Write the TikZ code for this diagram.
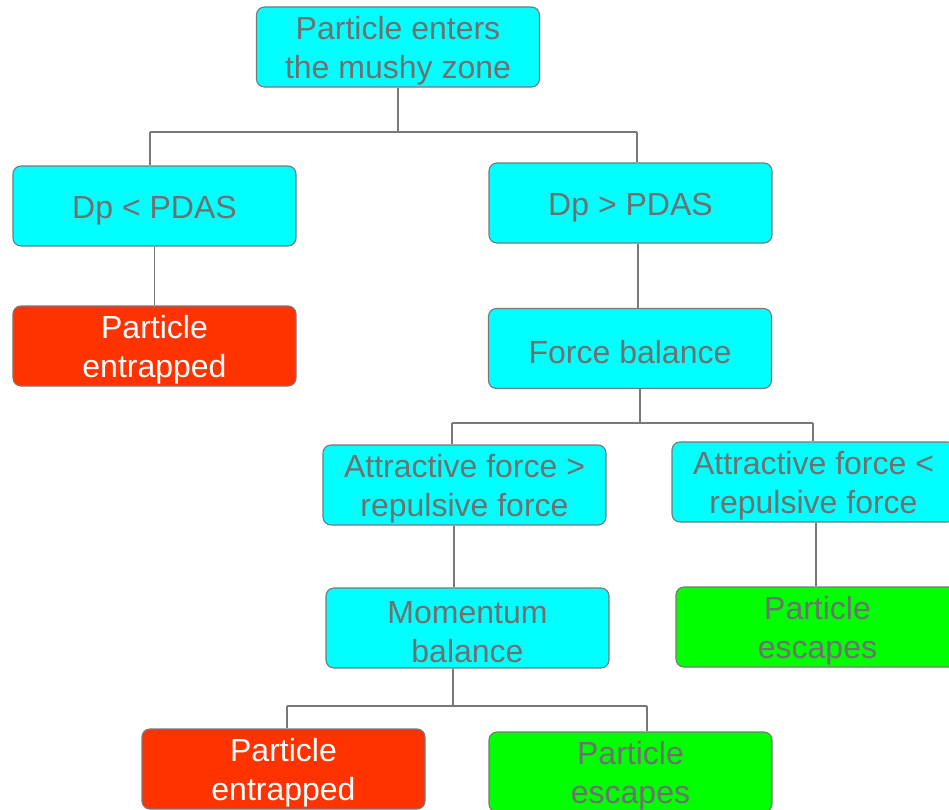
\documentclass[tikz,border=0pt]{standalone}
\usepackage{fontspec}
\setmainfont{Liberation Sans}
\definecolor{boxcyan}{RGB}{0,255,255}
\definecolor{boxred}{RGB}{255,51,0}
\definecolor{boxgreen}{RGB}{0,255,0}
\definecolor{txtgray}{RGB}{112,112,112}
\definecolor{edgegray}{RGB}{120,120,120}
\newcommand\vlift{\rule{0pt}{31bp}}
\tikzset{
  flowbox/.style={draw=edgegray, line width=1.1bp, rounded corners=8bp,
    minimum width=283bp, minimum height=80bp, inner sep=0pt, align=center,
    font=\fontsize{32bp}{39bp}\selectfont, text=txtgray},
  cyanbox/.style={flowbox, fill=boxcyan},
  redbox/.style={flowbox, fill=boxred, text=white},
  greenbox/.style={flowbox, fill=boxgreen},
  link/.style={draw=edgegray, line width=1.3bp}
}
\begin{document}
\begin{tikzpicture}[x=1bp,y=-1bp]
\useasboundingbox (0,0) rectangle (949,810);
\clip (0,0) rectangle (949,810);
\node[cyanbox] (top) at (398,47) {\vlift Particle enters\\the mushy zone};
\node[cyanbox] (lt) at (154.5,206) {\vlift Dp < PDAS};
\node[cyanbox] (rt) at (630.5,203) {\vlift Dp > PDAS};
\node[redbox] (ent1) at (154.5,346) {\vlift Particle\\entrapped};
\node[cyanbox] (fb) at (630,348.5) {\vlift Force balance};
\node[cyanbox] (af1) at (464.5,485) {\vlift Attractive force >\\repulsive force};
\node[cyanbox] (af2) at (813.5,482) {\vlift Attractive force <\\repulsive force};
\node[greenbox] (esc1) at (817.5,627) {\vlift Particle\\escapes};
\node[cyanbox] (mb) at (467.5,628) {\vlift Momentum\\balance};
\node[redbox] (ent2) at (283.5,769) {\vlift Particle\\entrapped};
\node[greenbox] (esc2) at (630.5,772) {\vlift Particle\\escapes};
% bus 1
\coordinate (b1l) at (150,132);
\coordinate (b1r) at (637,132);
\draw[link] (top.south) -- (top.south |- b1l);
\draw[link] (b1l) -- (b1r);
\draw[link] (b1l) -- (b1l |- lt.north);
\draw[link] (b1r) -- (b1r |- rt.north);
% left branch
\draw[link] (lt.south) -- (ent1.north);
% right branch
\coordinate (r1) at (638,0);
\draw[link] (r1 |- rt.south) -- (r1 |- fb.north);
% bus 2
\coordinate (f0) at (640,423);
\coordinate (b2l) at (452,423);
\coordinate (b2r) at (813,423);
\draw[link] (f0 |- fb.south) -- (f0);
\draw[link] (b2l) -- (b2r);
\draw[link] (b2l) -- (b2l |- af1.north);
\draw[link] (b2r) -- (b2r |- af2.north);
% attractive branches
\coordinate (a1) at (454,0);
\coordinate (a2) at (816,0);
\draw[link] (a1 |- af1.south) -- (a1 |- mb.north);
\draw[link] (a2 |- af2.south) -- (a2 |- esc1.north);
% bus 3
\coordinate (m0) at (453,706);
\coordinate (b3l) at (287,706);
\coordinate (b3r) at (647,706);
\draw[link] (m0 |- mb.south) -- (m0);
\draw[link] (b3l) -- (b3r);
\draw[link] (b3l) -- (b3l |- ent2.north);
\draw[link] (b3r) -- (b3r |- esc2.north);
\end{tikzpicture}
\end{document}
